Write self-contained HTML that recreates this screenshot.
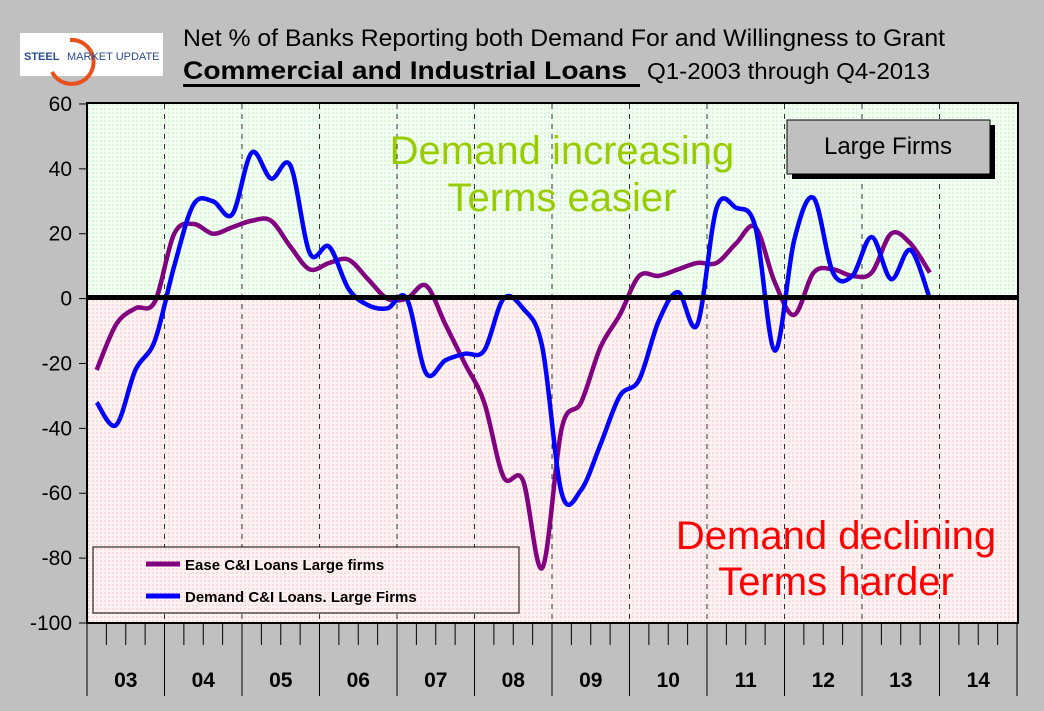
<!DOCTYPE html>
<html><head><meta charset="utf-8"><style>
body{margin:0;background:#c0c0c0;}
svg{display:block;font-family:"Liberation Sans",Arial,sans-serif;}
</style></head><body>
<svg id="s" width="1044" height="711" xmlns="http://www.w3.org/2000/svg">
<defs>
<pattern id="pg" width="4" height="4" patternUnits="userSpaceOnUse"><rect width="4" height="4" fill="#f2fff2"/><rect width="2" height="2" fill="#d8f8d8"/></pattern>
<pattern id="pr" width="4" height="4" patternUnits="userSpaceOnUse"><rect width="4" height="4" fill="#fff2f2"/><rect width="2" height="2" fill="#fadada"/></pattern>
</defs>
<rect width="1044" height="711" fill="#c0c0c0"/>
<rect x="20" y="33" width="143" height="43" fill="#fff"/>
<path d="M70 40 A22 22 0 1 1 52 72" fill="none" stroke="#e8501c" stroke-width="4"/>
<text x="24" y="60" font-size="11" font-weight="bold" fill="#2a4c8c">STEEL</text>
<text x="67" y="60" font-size="11" fill="#2a4c8c">MARKET UPDATE</text>
<text x="183" y="46" font-size="24" fill="#000" textLength="762" lengthAdjust="spacingAndGlyphs">Net % of Banks Reporting both Demand For and Willingness to Grant</text>
<text x="183" y="79" font-size="25" font-weight="bold" fill="#000" textLength="444" lengthAdjust="spacingAndGlyphs">Commercial and Industrial Loans</text>
<text x="647" y="79" font-size="23" fill="#000" textLength="283" lengthAdjust="spacingAndGlyphs">Q1-2003 through Q4-2013</text>
<rect x="183" y="84" width="457" height="3" fill="#000"/>
<rect x="87" y="103" width="931" height="195" fill="url(#pg)"/>
<rect x="87" y="298" width="931" height="325" fill="url(#pr)"/>
<g id="grid" stroke="#333" stroke-width="1" stroke-dasharray="5,5"></g>
<text x="562" y="164" font-size="40" fill="#99cc00" text-anchor="middle">Demand increasing</text>
<text x="562" y="211" font-size="40" fill="#99cc00" text-anchor="middle">Terms easier</text>
<text x="836" y="549" font-size="40" fill="#ff0000" text-anchor="middle">Demand declining</text>
<text x="836" y="595" font-size="40" fill="#ff0000" text-anchor="middle">Terms harder</text>
<rect x="792" y="125" width="203" height="54" fill="#000"/>
<rect x="787" y="120" width="203" height="54" fill="#c0c0c0" stroke="#000" stroke-width="1"/>
<text x="888" y="154" font-size="24" text-anchor="middle">Large Firms</text>
<path id="p1" fill="none" stroke="#800080" stroke-width="4.5"/>
<path id="p2" fill="none" stroke="#0000ff" stroke-width="4.5"/>
<rect x="87" y="295" width="931" height="5" fill="#000"/>
<rect x="87" y="103" width="931" height="520" fill="none" stroke="#000" stroke-width="2"/>
<rect x="93" y="547" width="426" height="66" fill="url(#pr)" stroke="#000" stroke-width="1"/>
<line x1="146" y1="564" x2="180" y2="564" stroke="#800080" stroke-width="5"/>
<text x="185" y="570" font-size="15" font-weight="bold">Ease C&amp;I Loans Large firms</text>
<line x1="146" y1="596" x2="180" y2="596" stroke="#0000ff" stroke-width="5"/>
<text x="185" y="602" font-size="15" font-weight="bold">Demand C&amp;I Loans. Large Firms</text>
<g id="ax" font-size="21"></g>
</svg>
<script>
var NS="http://www.w3.org/2000/svg";
function el(p,t,a,txt){var e=document.createElementNS(NS,t);for(var k in a)e.setAttribute(k,a[k]);if(txt)e.textContent=txt;p.appendChild(e);return e;}
var X0=87,YW=77.5,Y0=298.6,S=3.244;
var g=document.getElementById('grid'),ax=document.getElementById('ax');
for(var i=1;i<12;i++){var x=X0+i*YW;el(g,'line',{x1:x,y1:104,x2:x,y2:622});}
for(var v=60;v>=-100;v-=20){var y=Y0-v*S;el(ax,'line',{x1:79,y1:y,x2:87,y2:y,stroke:'#000','stroke-width':1});el(ax,'text',{x:72,y:y+7,'text-anchor':'end'},String(v));}
for(var q=0;q<=48;q++){var x=X0+q*YW/4;var yr=q%4==0;el(ax,'line',{x1:x,y1:623,x2:x,y2:yr?696:645,stroke:'#000','stroke-width':1});}
for(var i=0;i<12;i++){el(ax,'text',{x:X0+(i+0.5)*YW,y:687,'text-anchor':'middle','font-weight':'bold','font-size':21},(i+3<10?'0':'')+(i+3));}
var a=[-22,-8,-3,-1,20,23,20,22,24,24,16,9,11,12,6,0,0,4,-8,-20,-32,-55,-56,-83,-40,-32,-15,-5,7,7,9,11,11,17,22,5,-5,8,9,7,8,20,17,8];
var b=[-32,-39,-22,-13,10,29,30,26,45,37,41,14,16,3,-2,-3,0,-23,-19,-17,-16,0,-3,-15,-60,-59,-45,-30,-25,-7,2,-8,28,28,22,-16,18,31,8,7,19,6,15,0];
function path(d){var p=d.map(function(v,i){return [X0+(i+0.5)*YW/4,Y0-v*S];});var s='M'+p[0][0]+' '+p[0][1];
for(var i=0;i<p.length-1;i++){var p0=p[Math.max(0,i-1)],p1=p[i],p2=p[i+1],p3=p[Math.min(p.length-1,i+2)];
s+=' C'+(p1[0]+(p2[0]-p0[0])/6)+' '+(p1[1]+(p2[1]-p0[1])/6)+' '+(p2[0]-(p3[0]-p1[0])/6)+' '+(p2[1]-(p3[1]-p1[1])/6)+' '+p2[0]+' '+p2[1];}return s;}
document.getElementById('p1').setAttribute('d',path(a));
document.getElementById('p2').setAttribute('d',path(b));
</script>
</body></html>
